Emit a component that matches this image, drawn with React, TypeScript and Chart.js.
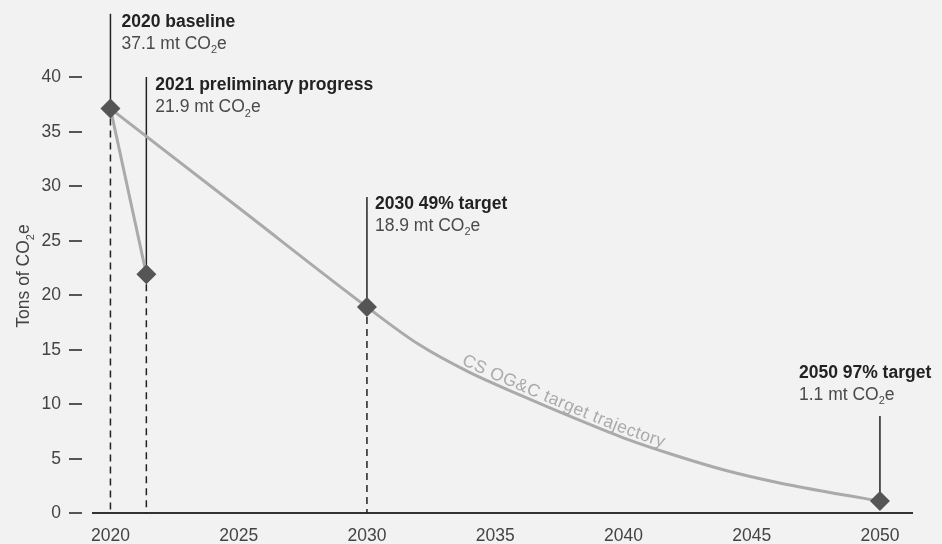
import { useEffect, useRef } from 'react';
import { Chart, registerables } from 'chart.js';

Chart.register(...registerables);

const FONT_FAMILY = '"Liberation Sans", Arial, Helvetica, sans-serif';
const BG = '#f1f2f1';
const INK = '#222222';
const SOFT_INK = '#4a4a4a';
const AXIS_INK = '#444444';
const TRAJECTORY_GRAY = '#aaaaaa';
const MARKER_GRAY = '#555555';
const TEXT_SIZE = 17.5;

// Milestones (diamond markers)
const milestoneYears = [2020, 2021.4, 2030, 2050];
const milestoneValues = [37.1, 21.9, 18.9, 1.1];
const milestoneTitles = [
  '2020 baseline',
  '2021 preliminary progress',
  '2030 49% target',
  '2050 97% target',
];

// Reported progress from the baseline to 2021
const progressYears = [2020, 2021.4];
const progressValues = [37.1, 21.9];

// CS OG&C target trajectory
const trajectoryYears = [2020, 2025, 2030, 2032, 2034, 2036, 2038, 2040, 2042, 2044, 2046, 2048, 2050];
const trajectoryValues = [37.1, 28.0, 18.9, 15.5, 12.9, 10.8, 8.8, 6.9, 5.3, 3.9, 2.8, 1.9, 1.1];
const trajectoryLabel = 'CS OG&C target trajectory';
const trajectoryLabelStartYear = 2033.6;

// Axis ticks
const xTickYears = [2020, 2025, 2030, 2035, 2040, 2045, 2050];
const yTickValues = [0, 5, 10, 15, 20, 25, 30, 35, 40];
const yAxisTitle = 'Tons of ';

// Callout geometry: leader top and title baseline in y-axis units, text offset in px
const calloutLayout = [
  { leaderTop: 45.8, titleAt: 44.6, dx: 11, dashed: true },
  { leaderTop: 40.0, titleAt: 38.8, dx: 9, dashed: true },
  { leaderTop: 29.0, titleAt: 27.9, dx: 8, dashed: true },
  { leaderTop: 8.9, titleAt: 12.4, dx: -81, dashed: false },
];
const CALLOUT_LINE_GAP = 22;

type Run = { text: string; sub?: boolean };

const co2Runs = (prefix: string): Run[] => [
  { text: prefix + 'CO' },
  { text: '2', sub: true },
  { text: 'e' },
];

function runFont(run: Run, size: number, weight: string) {
  const s = run.sub ? Math.round(size * 0.64) : size;
  return `${weight} ${s}px ${FONT_FAMILY}`;
}

function measureRuns(ctx: CanvasRenderingContext2D, runs: Run[], size: number, weight = 'normal') {
  let w = 0;
  for (const r of runs) {
    ctx.font = runFont(r, size, weight);
    w += ctx.measureText(r.text).width;
  }
  return w;
}

function drawRuns(
  ctx: CanvasRenderingContext2D,
  runs: Run[],
  x: number,
  y: number,
  size: number,
  color: string,
  weight = 'normal'
) {
  let cx = x;
  ctx.fillStyle = color;
  ctx.textAlign = 'left';
  ctx.textBaseline = 'alphabetic';
  for (const r of runs) {
    ctx.font = runFont(r, size, weight);
    ctx.fillText(r.text, cx, r.sub ? y + size * 0.26 : y);
    cx += ctx.measureText(r.text).width;
  }
}

function cubic(p0: number, c1: number, c2: number, p3: number, t: number) {
  const m = 1 - t;
  return m * m * m * p0 + 3 * m * m * t * c1 + 3 * m * t * t * c2 + t * t * t * p3;
}

const calloutPlugin = {
  id: 'milestoneCallouts',
  beforeDatasetsDraw(chart: any) {
    const { ctx, scales } = chart;
    const x = scales.x;
    const y = scales.y;
    const base = y.getPixelForValue(0);
    ctx.save();
    ctx.strokeStyle = INK;
    ctx.lineWidth = 1.5;
    milestoneYears.forEach((yr, i) => {
      const lay = calloutLayout[i];
      const px = x.getPixelForValue(yr);
      const py = y.getPixelForValue(milestoneValues[i]);
      ctx.setLineDash([]);
      ctx.beginPath();
      ctx.moveTo(px, y.getPixelForValue(lay.leaderTop));
      ctx.lineTo(px, py);
      ctx.stroke();
      if (lay.dashed) {
        ctx.setLineDash([7, 5]);
        ctx.beginPath();
        ctx.moveTo(px, py + 10);
        ctx.lineTo(px, base);
        ctx.stroke();
      }
    });
    ctx.restore();
  },
  afterDatasetsDraw(chart: any) {
    const { ctx, scales } = chart;
    const x = scales.x;
    const meta = chart.getDatasetMeta(2);
    const pts = meta.data as any[];
    if (!pts || pts.length < 2) return;

    // sample the drawn trajectory into a polyline
    const path: { x: number; y: number; s: number }[] = [];
    for (let i = 0; i < pts.length - 1; i++) {
      const a = pts[i];
      const b = pts[i + 1];
      const c1x = a.cp2x ?? a.x;
      const c1y = a.cp2y ?? a.y;
      const c2x = b.cp1x ?? b.x;
      const c2y = b.cp1y ?? b.y;
      for (let k = 0; k <= 60; k++) {
        if (i > 0 && k === 0) continue;
        const t = k / 60;
        const px = cubic(a.x, c1x, c2x, b.x, t);
        const py = cubic(a.y, c1y, c2y, b.y, t);
        const prev = path[path.length - 1];
        const s = prev ? prev.s + Math.hypot(px - prev.x, py - prev.y) : 0;
        path.push({ x: px, y: py, s });
      }
    }
    const at = (s: number) => {
      let j = 1;
      while (j < path.length - 1 && path[j].s < s) j++;
      const p = path[j - 1];
      const q = path[j];
      const f = q.s === p.s ? 0 : (s - p.s) / (q.s - p.s);
      return {
        x: p.x + (q.x - p.x) * f,
        y: p.y + (q.y - p.y) * f,
        ang: Math.atan2(q.y - p.y, q.x - p.x),
      };
    };
    const startX = x.getPixelForValue(trajectoryLabelStartYear);
    let s0 = 0;
    for (const p of path) {
      if (p.x >= startX) {
        s0 = p.s;
        break;
      }
    }
    // place the label glyph by glyph along the curve
    ctx.save();
    ctx.font = `normal ${TEXT_SIZE}px ${FONT_FAMILY}`;
    ctx.fillStyle = TRAJECTORY_GRAY;
    ctx.textAlign = 'center';
    ctx.textBaseline = 'alphabetic';
    const tracking = 0.5;
    let s = s0;
    for (const ch of trajectoryLabel) {
      const w = ctx.measureText(ch).width;
      const p = at(s + w / 2);
      const off = 4;
      ctx.save();
      ctx.translate(p.x + Math.sin(p.ang) * off, p.y - Math.cos(p.ang) * off);
      ctx.rotate(p.ang);
      ctx.fillText(ch, 0, 0);
      ctx.restore();
      s += w + tracking;
    }
    ctx.restore();
  },
  afterDraw(chart: any) {
    const { ctx, scales, chartArea } = chart;
    const x = scales.x;
    const y = scales.y;
    ctx.save();

    // y-axis tick labels and dashes
    ctx.strokeStyle = MARKER_GRAY;
    ctx.lineWidth = 2;
    ctx.fillStyle = AXIS_INK;
    ctx.font = `normal ${TEXT_SIZE}px ${FONT_FAMILY}`;
    ctx.textAlign = 'right';
    ctx.textBaseline = 'middle';
    for (const v of yTickValues) {
      const py = Math.round(y.getPixelForValue(v));
      ctx.fillText(String(v), chartArea.left - 32, py + 0.5);
      ctx.beginPath();
      ctx.moveTo(chartArea.left - 24, py);
      ctx.lineTo(chartArea.left - 11, py);
      ctx.stroke();
    }

    // y-axis title with subscript
    const titleRuns = co2Runs(yAxisTitle);
    const tw = measureRuns(ctx, titleRuns, TEXT_SIZE);
    const midY = (y.getPixelForValue(0) + y.getPixelForValue(40)) / 2 - 19;
    ctx.save();
    ctx.translate(29, midY);
    ctx.rotate(-Math.PI / 2);
    drawRuns(ctx, titleRuns, -tw / 2, 0, TEXT_SIZE, AXIS_INK);
    ctx.restore();

    // milestone callout texts
    milestoneYears.forEach((yr, i) => {
      const lay = calloutLayout[i];
      const tx = x.getPixelForValue(yr) + lay.dx;
      const ty = y.getPixelForValue(lay.titleAt);
      drawRuns(ctx, [{ text: milestoneTitles[i] }], tx, ty, TEXT_SIZE, INK, 'bold');
      drawRuns(
        ctx,
        co2Runs(`${milestoneValues[i].toFixed(1)} mt `),
        tx,
        ty + CALLOUT_LINE_GAP,
        TEXT_SIZE,
        SOFT_INK
      );
    });
    ctx.restore();
  },
};

export default function App() {
  const canvasRef = useRef<HTMLCanvasElement>(null);

  useEffect(() => {
    const canvas = canvasRef.current;
    if (!canvas) return;
    const chart = new Chart(canvas, {
      type: 'line',
      data: {
        datasets: [
          {
            label: 'Milestones',
            data: milestoneYears.map((yr, i) => ({ x: yr, y: milestoneValues[i] })),
            showLine: false,
            pointStyle: 'rectRot',
            pointRadius: 10,
            pointHoverRadius: 10,
            pointBackgroundColor: MARKER_GRAY,
            pointBorderWidth: 0,
            borderColor: MARKER_GRAY,
          },
          {
            label: 'Progress',
            data: progressYears.map((yr, i) => ({ x: yr, y: progressValues[i] })),
            borderColor: TRAJECTORY_GRAY,
            borderWidth: 3,
            pointRadius: 0,
            tension: 0,
          },
          {
            label: trajectoryLabel,
            data: trajectoryYears.map((yr, i) => ({ x: yr, y: trajectoryValues[i] })),
            borderColor: TRAJECTORY_GRAY,
            borderWidth: 3,
            pointRadius: 0,
            cubicInterpolationMode: 'monotone',
          },
        ],
      } as any,
      options: {
        responsive: false,
        animation: false,
        events: [],
        layout: { padding: { top: 22.5, right: 30, left: 0, bottom: 0 } },
        plugins: {
          legend: { display: false },
          tooltip: { enabled: false },
        },
        scales: {
          x: {
            type: 'linear',
            min: 2019.32,
            max: 2051.25,
            afterBuildTicks: (scale: any) => {
              scale.ticks = xTickYears.map((v) => ({ value: v }));
            },
            afterFit: (scale: any) => {
              scale.height = 31;
            },
            grid: { display: false, drawTicks: false },
            border: { display: true, color: '#333333', width: 2 },
            ticks: {
              autoSkip: false,
              maxRotation: 0,
              padding: 13,
              color: AXIS_INK,
              font: { family: FONT_FAMILY, size: TEXT_SIZE },
              callback: (v: any) => String(v),
            },
          },
          y: {
            type: 'linear',
            min: 0,
            max: 45,
            afterBuildTicks: (scale: any) => {
              scale.ticks = yTickValues.map((v) => ({ value: v }));
            },
            afterFit: (scale: any) => {
              scale.width = 93;
            },
            grid: { display: false, drawTicks: false },
            border: { display: false },
            ticks: { display: false },
          },
        },
      },
      plugins: [calloutPlugin],
    });
    return () => chart.destroy();
  }, []);

  return (
    <div
      style={{
        position: 'absolute',
        left: 0,
        top: 0,
        width: 942,
        height: 544,
        background: BG,
        overflow: 'hidden',
      }}
    >
      <canvas ref={canvasRef} width={942} height={544} style={{ display: 'block' }} />
    </div>
  );
}
